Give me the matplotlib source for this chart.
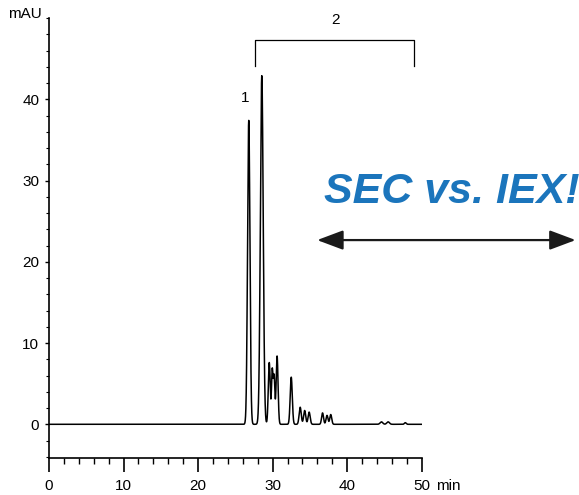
import numpy as np
import matplotlib
matplotlib.use('Agg')
import matplotlib.pyplot as plt
from matplotlib.patches import FancyArrowPatch
from matplotlib.ticker import MultipleLocator

# peak table: retention time (min), height (mAU), width (sigma, min)
rt = [26.8, 28.55, 29.55, 29.95, 30.2, 30.6, 32.5, 33.7, 34.3, 34.9,
      36.7, 37.3, 37.8, 44.6, 45.5, 47.8]
height = [37.4, 42.9, 7.6, 6.6, 5.8, 8.4, 5.8, 2.1, 1.7, 1.5,
          1.4, 1.1, 1.2, 0.3, 0.3, 0.2]
sigma = [0.16, 0.19, 0.13, 0.10, 0.10, 0.13, 0.14, 0.14, 0.14, 0.14,
         0.13, 0.13, 0.13, 0.18, 0.18, 0.12]

xticks = [0, 10, 20, 30, 40, 50]
xticklabels = ['0', '10', '20', '30', '40', '50']
yticks = [0, 10, 20, 30, 40]

t = np.linspace(0, 50, 5001)
signal = np.zeros_like(t)
for r, h, s in zip(rt, height, sigma):
    signal += h * np.exp(-0.5 * ((t - r) / s) ** 2)

plt.rcParams['font.family'] = ['Liberation Sans', 'DejaVu Sans']

fig = plt.figure(figsize=(5.79, 4.95), dpi=100)
ax = fig.add_axes([0.0846, 0.0747, 0.6437, 0.8889])

ax.plot(t, signal, 'k-', lw=1.1)

ax.set_xlim(0, 50)
ax.set_ylim(-4.15, 50)
for s in ['top', 'right']:
    ax.spines[s].set_visible(False)
ax.spines['left'].set_linewidth(1.2)
ax.spines['bottom'].set_linewidth(1.2)

ax.set_xticks(xticks)
ax.set_xticklabels(xticklabels)
ax.xaxis.set_minor_locator(MultipleLocator(2))
ax.set_yticks(yticks)
ax.yaxis.set_minor_locator(MultipleLocator(2))
ax.tick_params(axis='x', which='major', length=10, width=1.2, labelsize=11, pad=5)
ax.tick_params(axis='x', which='minor', length=4.5, width=1.0)
ax.tick_params(axis='y', which='major', length=3, width=1.0, labelsize=11, pad=4)
ax.tick_params(axis='y', which='minor', length=2, width=0.8)

# unit after the last x tick label
ax.annotate('min', xy=(50, 0), xycoords=('data', 'axes fraction'),
            xytext=(10, -15), textcoords='offset points',
            ha='left', va='top', fontsize=11)
ax.text(-1.0, 50.5, 'mAU', ha='right', va='center', fontsize=11)

# peak labels
ax.text(26.3, 40.2, '1', ha='center', va='center', fontsize=11)
ax.plot([27.6, 27.6, 49.0, 49.0], [44.1, 47.3, 47.3, 44.1], 'k-', lw=0.9, clip_on=False)
ax.text(38.4, 49.7, '2', ha='center', va='center', fontsize=11)

fig.text(0.781, 0.612, 'SEC vs. IEX!', color='#1b75bc', fontsize=31,
         fontweight='bold', fontstyle='italic', ha='center', va='center')

arrow = FancyArrowPatch((0.543, 0.515), (0.999, 0.515), transform=fig.transFigure,
                        arrowstyle='<|-|>,head_length=1.6,head_width=0.6',
                        mutation_scale=10, color='#1a1a1a', lw=1.6)
fig.patches.append(arrow)

fig.savefig('out.png', dpi=100)
